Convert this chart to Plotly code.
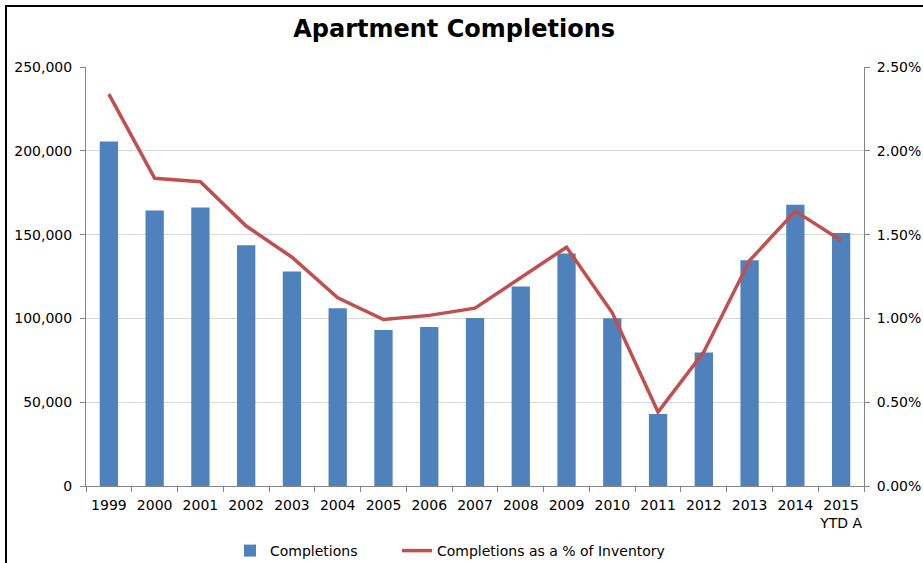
import plotly.graph_objects as go

years = ["1999", "2000", "2001", "2002", "2003", "2004", "2005", "2006", "2007",
         "2008", "2009", "2010", "2011", "2012", "2013", "2014", "2015<br>YTD A"]
completions = [205500, 164400, 166200, 143700, 128000, 106000, 93100, 94900, 100200,
               119000, 138700, 100100, 43000, 79700, 134700, 167800, 151000]
pct_inventory = [0.02338, 0.01836, 0.01816, 0.01551, 0.01365, 0.01123, 0.00993, 0.01018, 0.01061,
                 0.01244, 0.01425, 0.01033, 0.00441, 0.00800, 0.01345, 0.01640, 0.01465]
left_ticks = [0, 50000, 100000, 150000, 200000, 250000]
right_ticks = [0, 0.005, 0.01, 0.015, 0.02, 0.025]

FONT = "DejaVu Sans"
AXIS = "#868686"
GRID = "#d9d9d9"

fig = go.Figure()
fig.add_trace(go.Bar(x=years, y=completions, name="Completions",
                     marker=dict(color="#4F81BD", line=dict(width=0)), width=0.4,
                     legend="legend"))
fig.add_trace(go.Scatter(x=years, y=pct_inventory, name="Completions as a % of Inventory",
                         mode="lines", line=dict(color="#C0504D", width=3.5), yaxis="y2",
                         legend="legend2"))

L, R, T, B = 86, 59, 67, 77
W, H = 923, 563
pw, ph = W - L - R, H - T - B

def px_x(p):
    return (p - L) / pw

def px_y(p):
    return (H - B - p) / ph

leg_common = dict(orientation="h", xanchor="left", y=px_y(551), yanchor="middle",
                  font=dict(size=14), bgcolor="rgba(0,0,0,0)")

fig.update_layout(
    width=W, height=H,
    margin=dict(l=L, r=R, t=T, b=B, pad=0, autoexpand=False),
    paper_bgcolor="white", plot_bgcolor="white",
    font=dict(family=FONT, size=14, color="black"),
    title=dict(text="<b>Apartment Completions</b>", x=0.492, xanchor="center",
               y=1 - 29 / H, yanchor="middle",
               font=dict(family=FONT, size=24, color="black")),
    xaxis=dict(type="category", range=[-0.5, 16.5], showline=True, linecolor=AXIS,
               linewidth=1, ticks="outside", tickson="boundaries", ticklen=5,
               tickcolor=AXIS, showgrid=False, tickangle=0, tickfont=dict(size=14),
               ticklabelstandoff=6),
    yaxis=dict(range=[0, 250000], tickvals=left_ticks, tickformat=",",
               showline=True, linecolor=AXIS, ticks="outside", ticklen=5, tickcolor=AXIS,
               showgrid=True, gridcolor=GRID, gridwidth=1, zeroline=False,
               tickfont=dict(size=14), ticklabelstandoff=5),
    yaxis2=dict(range=[0, 0.025], tickvals=right_ticks, tickformat=".2%",
                overlaying="y", side="right", showline=True, linecolor=AXIS,
                ticks="outside", ticklen=5, tickcolor=AXIS, showgrid=False,
                zeroline=False, tickfont=dict(size=14), ticklabelstandoff=4),
    showlegend=True,
    legend=dict(x=px_x(230), **leg_common),
    legend2=dict(x=px_x(397), **leg_common),
    bargap=0.6,
)

fig.add_shape(type="rect", xref="paper", yref="paper",
              x0=px_x(6), x1=px_x(935), y0=px_y(575), y1=px_y(6),
              line=dict(color="black", width=2), fillcolor="rgba(0,0,0,0)", layer="above")

fig.write_html("out.html", config={"displayModeBar": False},
               post_script="document.body.style.margin='0';")
